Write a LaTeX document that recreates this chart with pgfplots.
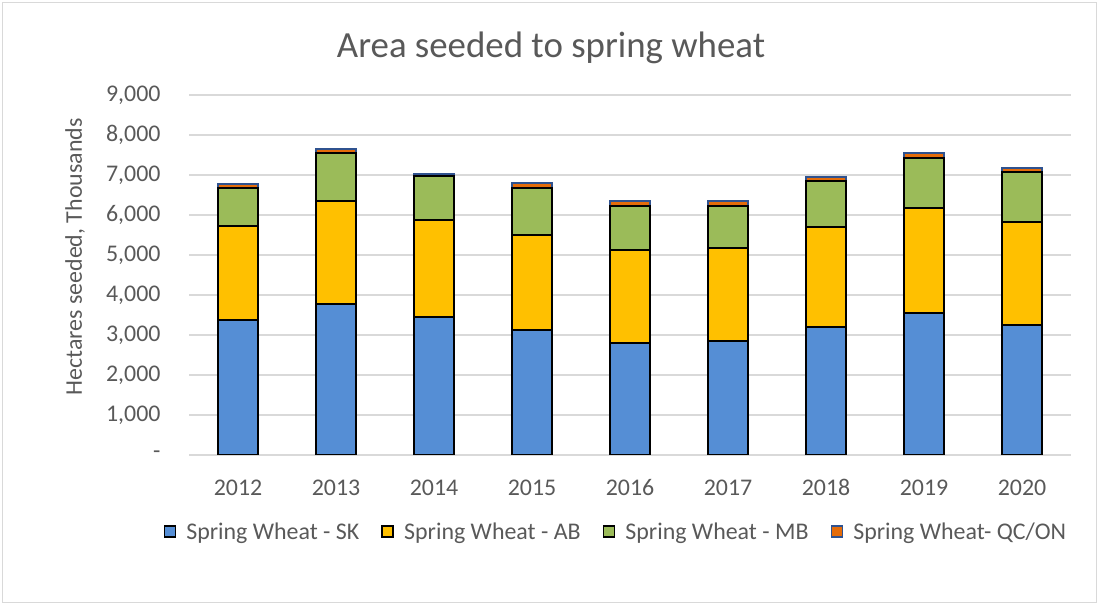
\documentclass[border=0pt]{standalone}
\usepackage{pgfplots}
\pgfplotsset{compat=1.18}
\usepackage{fontspec}
\setmainfont{Carlito}
\definecolor{txt}{HTML}{595959}
\definecolor{cSK}{HTML}{558ED5}
\definecolor{cAB}{HTML}{FFC000}
\definecolor{cMB}{HTML}{9BBB59}
\definecolor{cQC}{HTML}{E46C0A}
\definecolor{cQCb}{HTML}{2F528F}
\definecolor{gridc}{HTML}{D9D9D9}
\begin{document}
\begin{tikzpicture}
\path[use as bounding box] (0,0) rectangle (1099bp,605bp);
\draw[gridc, line width=1bp] (2bp,2bp) rectangle (1096bp,602bp);
\node[txt, font=\fontsize{37}{40}\selectfont] at (551bp,557bp) {Area seeded to spring wheat};
\node[txt, rotate=90, font=\fontsize{24}{28}\selectfont] at (75bp,348bp) {Hectares seeded, Thousands};
\begin{axis}[
  at={(189bp,150bp)}, anchor=south west,
  scale only axis, width=882bp, height=360bp,
  ybar stacked, bar width=40bp,
  xmin=-0.5, xmax=8.5, ymin=0, ymax=9000,
  xtick={0,...,8},
  xticklabels={2012,2013,2014,2015,2016,2017,2018,2019,2020},
  ytick={0,1000,...,9000},
  yticklabels={-,{1,000},{2,000},{3,000},{4,000},{5,000},{6,000},{7,000},{8,000},{9,000}},
  /pgf/number format/assume math mode=true,
  ticklabel style={font=\fontsize{24}{28}\selectfont, text=txt},
  xticklabel style={yshift=-21bp},
  yticklabel style={xshift=-25bp},
  major tick length=0pt,
  axis line style={draw=none},
  ymajorgrids, grid style={gridc, line width=1.5bp},
  legend columns=4,
  legend style={at={(0.484,-0.214)}, anchor=center, draw=none, fill=none,
    font=\fontsize{24}{28}\selectfont, text=txt,
    /tikz/every even column/.append style={column sep=20bp}},
  legend image code/.code={\draw[#1, line width=1.5bp] (0bp,-5bp) rectangle (11bp,6bp); \path (19bp,0bp);},
]
\addplot[fill=cSK, draw=black, line width=2bp] coordinates {(0,3380) (1,3775) (2,3440) (3,3130) (4,2810) (5,2840) (6,3190) (7,3550) (8,3255)};
\addplot[fill=cAB, draw=black, line width=2bp] coordinates {(0,2340) (1,2585) (2,2445) (3,2380) (4,2305) (5,2335) (6,2505) (7,2630) (8,2560)};
\addplot[fill=cMB, draw=black, line width=2bp] coordinates {(0,960) (1,1195) (2,1090) (3,1170) (4,1120) (5,1060) (6,1150) (7,1250) (8,1255)};
\addplot[fill=cQC, draw=cQCb, line width=2bp] coordinates {(0,90) (1,100) (2,40) (3,110) (4,110) (5,110) (6,110) (7,110) (8,110)};
\legend{Spring Wheat - SK,Spring Wheat - AB,Spring Wheat - MB,Spring Wheat- QC/ON}
\end{axis}
\end{tikzpicture}
\end{document}
